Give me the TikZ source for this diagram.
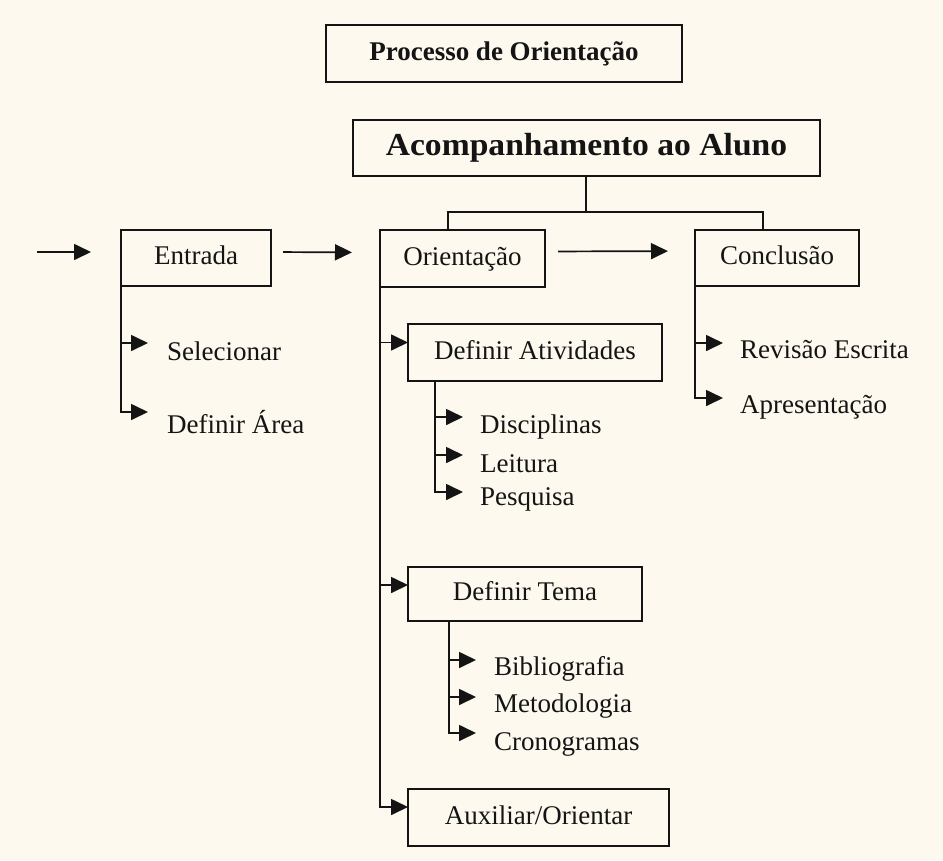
\documentclass[tikz,border=0pt]{standalone}
\usepackage{fontspec}
\setmainfont{Liberation Serif}
\usetikzlibrary{arrows.meta}
\definecolor{paper}{RGB}{253,249,239}
\definecolor{ink}{RGB}{20,20,20}
\tikzset{
  every picture/.style={x=1pt,y=-1pt},
  box/.style={draw=ink, line width=1.7pt, rectangle, inner sep=0pt, outer sep=0pt,
              text height=19pt, text depth=6pt,
              font=\fontsize{27}{32}\selectfont, text=ink},
  item/.style={inner sep=0pt, anchor=base west, font=\fontsize{27}{32}\selectfont, text=ink},
  link/.style={draw=ink, line width=1.7pt},
  arr/.style={link, -{Triangle[length=17pt,width=16pt]}},
}
\begin{document}
\begin{tikzpicture}
\fill[paper] (0,0) rectangle (943,860);
\useasboundingbox (0,0) rectangle (943,860);

% headings
\node[box, minimum width=356pt, minimum height=57pt, font=\fontsize{27}{32}\selectfont\bfseries]
  (title) at (504,53.5) {Processo de Orientação};
\node[box, minimum width=467pt, minimum height=56pt, text height=22pt, text depth=7pt,
      font=\fontsize{32}{36}\selectfont\bfseries]
  (acomp) at (586.5,148) {\scalebox{1.05}[1]{Acompanhamento ao Aluno}};

% main stages
\node[box, minimum width=150pt, minimum height=56pt] (entrada) at (196,258) {Entrada};
\node[box, minimum width=165pt, minimum height=57pt] (orient) at (462.5,258.5) {Orientação};
\node[box, minimum width=164pt, minimum height=56pt] (concl) at (777,258) {Conclusão};

% orientation steps
\node[box, minimum width=254pt, minimum height=57pt] (defativ) at (535,352.5) {Definir Atividades};
\node[box, minimum width=234pt, minimum height=54pt] (deftema) at (525,594) {Definir Tema};
\node[box, minimum width=261pt, minimum height=57pt] (aux) at (538.5,817.5) {Auxiliar/Orientar};

% bus from the top box to the stages
\coordinate (bus) at (586,212);
\draw[link] (acomp.south -| bus) -- (bus);
\draw[link] ([xshift=68pt]orient.north west) |- (bus) -| ([xshift=68pt]concl.north west);

% flow between stages
\coordinate (start) at (37,252);
\draw[arr, shorten >=30pt] (start) -- (start -| entrada.west);
\draw[arr, shorten <=12pt, shorten >=28pt] ([yshift=6pt]entrada.east) -- ([yshift=6pt]orient.west);
\draw[arr, shorten <=13pt, shorten >=27pt] ([yshift=7pt]orient.east) -- ([yshift=7pt]concl.west);

% Entrada items
\coordinate (tSel) at (148,343);
\coordinate (tArea) at (148,412);
\node[item] (sel) at (167,360) {Selecionar};
\node[item] (area) at (167,433) {Definir Área};
\draw[arr] (entrada.south west) |- (tSel);
\draw[arr] (entrada.south west) |- (tArea);

% Orientação steps
\draw[arr] (orient.south west) |- ([yshift=10pt]defativ.west);
\draw[arr] (orient.south west) |- ([yshift=9pt]deftema.west);
\draw[arr] (orient.south west) |- ([yshift=10.5pt]aux.west);

% Definir Atividades items
\coordinate (tDisc) at (463,417);
\coordinate (tLeit) at (463,455);
\coordinate (tPesq) at (463,492);
\node[item] (disc) at (480,433) {Disciplinas};
\node[item] (leit) at (480,472) {Leitura};
\node[item] (pesq) at (480,505) {Pesquisa};
\draw[arr] ([xshift=27pt]defativ.south west) |- (tDisc);
\draw[arr] ([xshift=27pt]defativ.south west) |- (tLeit);
\draw[arr] ([xshift=27pt]defativ.south west) |- (tPesq);

% Definir Tema items
\coordinate (tBib) at (476,660);
\coordinate (tMet) at (476,697);
\coordinate (tCro) at (476,733);
\node[item] (bib) at (494,675) {Bibliografia};
\node[item] (met) at (494,712) {Metodologia};
\node[item] (cro) at (494,750) {Cronogramas};
\draw[arr] ([xshift=41pt]deftema.south west) |- (tBib);
\draw[arr] ([xshift=41pt]deftema.south west) |- (tMet);
\draw[arr] ([xshift=41pt]deftema.south west) |- (tCro);

% Conclusão items
\coordinate (tRev) at (723,343);
\coordinate (tApr) at (723,398);
\node[item] (rev) at (740,358) {Revisão Escrita};
\node[item] (apr) at (740,413) {Apresentação};
\draw[arr] (concl.south west) |- (tRev);
\draw[arr] (concl.south west) |- (tApr);
\end{tikzpicture}
\end{document}
